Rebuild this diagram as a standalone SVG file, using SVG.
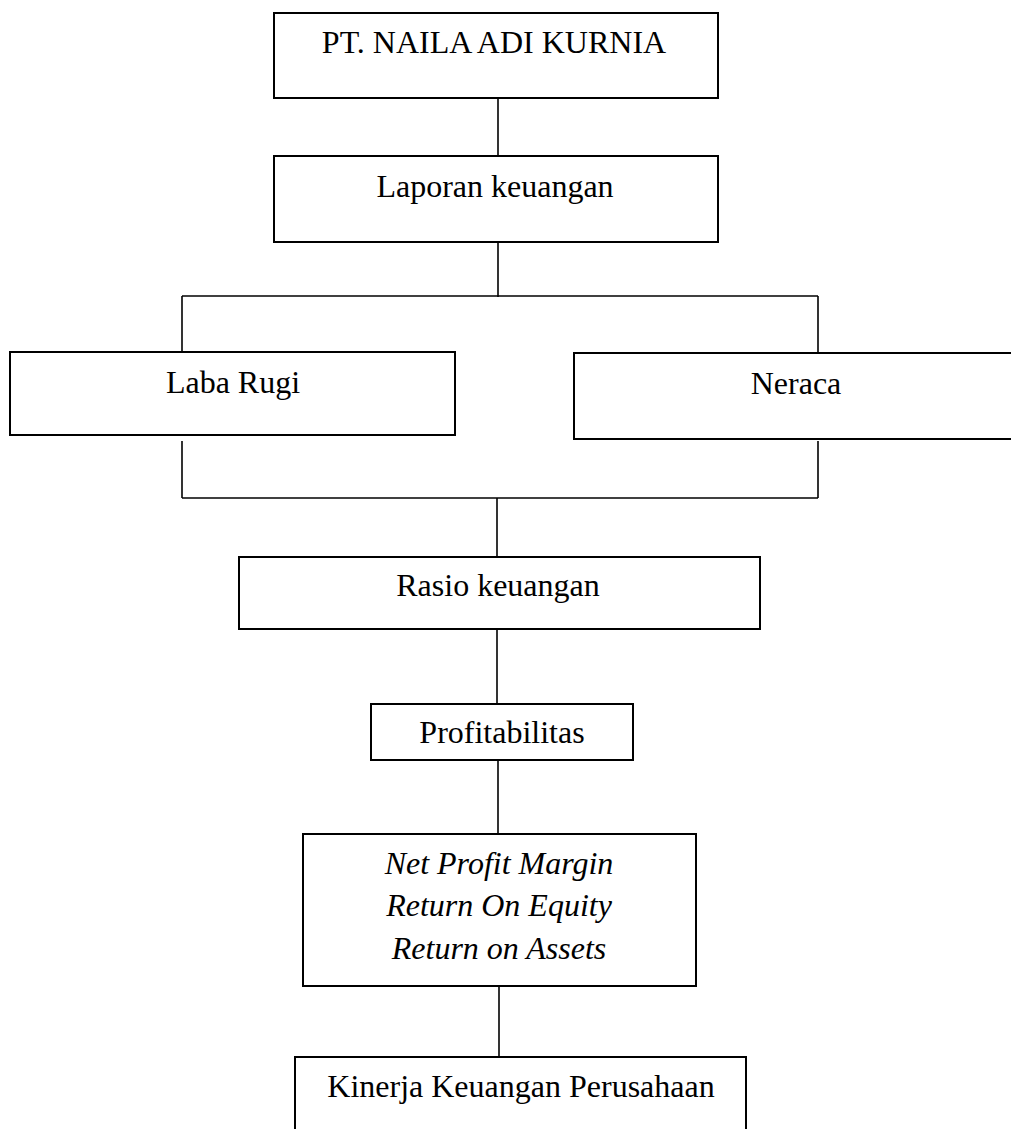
<svg xmlns="http://www.w3.org/2000/svg" width="1011" height="1129" viewBox="0 0 1011 1129">
<style>
.box{fill:#fff;stroke:#000;stroke-width:2}
.ln{fill:none;stroke:#000;stroke-width:1.6}
text{font-family:"Liberation Serif","Times New Roman",serif;font-size:32px;fill:#000;text-anchor:middle}
.it{font-style:italic}
</style>
<rect width="1011" height="1129" fill="#fff"/>
<g id="connectors">
<path class="ln" d="M498 98V156"/>
<path class="ln" d="M498 242V297"/>
<path class="ln" d="M182 296H818"/>
<path class="ln" d="M182 296V352"/>
<path class="ln" d="M818 296V353"/>
<path class="ln" d="M182 441V498"/>
<path class="ln" d="M818 441V498"/>
<path class="ln" d="M182 498H818"/>
<path class="ln" d="M497 498V557"/>
<path class="ln" d="M497 629V704"/>
<path class="ln" d="M498 760V834"/>
<path class="ln" d="M499 986V1057"/>
</g>
<g id="pt">
<rect class="box" x="274" y="13" width="444" height="85"/>
<text x="494" y="53">PT. NAILA ADI KURNIA</text>
</g>
<g id="laporan">
<rect class="box" x="274" y="156" width="444" height="86"/>
<text x="495" y="197">Laporan keuangan</text>
</g>
<g id="labarugi">
<rect class="box" x="10" y="352" width="445" height="83"/>
<text x="233" y="393">Laba Rugi</text>
</g>
<g id="neraca">
<rect class="box" x="574" y="353" width="450" height="86"/>
<text x="796" y="394">Neraca</text>
</g>
<g id="rasio">
<rect class="box" x="239" y="557" width="521" height="72"/>
<text x="498" y="596">Rasio keuangan</text>
</g>
<g id="profitabilitas">
<rect class="box" x="371" y="704" width="262" height="56"/>
<text x="502" y="743">Profitabilitas</text>
</g>
<g id="rasio-list">
<rect class="box" x="303" y="834" width="393" height="152"/>
<text class="it" x="499" y="874">Net Profit Margin</text>
<text class="it" x="499" y="916">Return On Equity</text>
<text class="it" x="499" y="959">Return on Assets</text>
</g>
<g id="kinerja">
<rect class="box" x="295" y="1057" width="451" height="90"/>
<text x="521" y="1097">Kinerja Keuangan Perusahaan</text>
</g>
</svg>
